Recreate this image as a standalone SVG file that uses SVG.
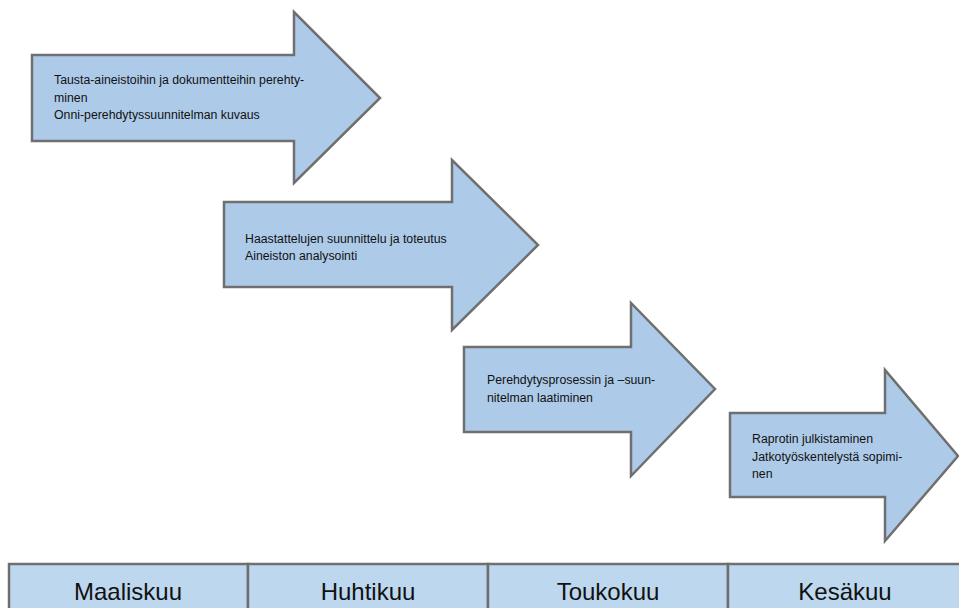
<svg xmlns="http://www.w3.org/2000/svg" width="959" height="608" viewBox="0 0 959 608">
<style>
.arrow{fill:#adcbe9;stroke:#6f6f6f;stroke-width:2.5;stroke-linejoin:miter}
.t{font-family:"Liberation Sans",Arial,sans-serif;font-size:12.3px;fill:#111}
.cell{fill:#bdd7ee;stroke:#6f6f6f;stroke-width:2.5}
.m{font-family:"Liberation Sans",Arial,sans-serif;font-size:24px;fill:#111;text-anchor:middle}
</style>
<rect width="959" height="608" fill="#fff"/>
<g id="arrow1">
<polygon class="arrow" points="32,55 294,55 294,12 380,98 294,183 294,141 32,141"/>
<text class="t" x="54" y="84">Tausta-aineistoihin ja dokumentteihin perehty-</text>
<text class="t" x="54" y="101.6">minen</text>
<text class="t" x="54" y="119.2">Onni-perehdytyssuunnitelman kuvaus</text>
</g>
<g id="arrow2">
<polygon class="arrow" points="224,202 452,202 452,160 538,245 452,330 452,287 224,287"/>
<text class="t" x="245" y="242.7">Haastattelujen suunnittelu ja toteutus</text>
<text class="t" x="245" y="260.3">Aineiston analysointi</text>
</g>
<g id="arrow3">
<polygon class="arrow" points="464,347 631,347 631,303 715,389 631,476 631,432 464,432"/>
<text class="t" x="487" y="384">Perehdytysprosessin ja –suun-</text>
<text class="t" x="487" y="401.6">nitelman laatiminen</text>
</g>
<g id="arrow4">
<polygon class="arrow" points="730,413 885,413 885,370 958,456 885,541 885,497 730,497"/>
<text class="t" x="752" y="443">Raprotin julkistaminen</text>
<text class="t" x="752" y="460.5">Jatkotyöskentelystä sopimi-</text>
<text class="t" x="752" y="478">nen</text>
</g>
<g id="timeline">
<g id="m1"><rect class="cell" x="9" y="564" width="239" height="60"/><text class="m" x="128" y="600">Maaliskuu</text></g>
<g id="m2"><rect class="cell" x="248" y="564" width="240" height="60"/><text class="m" x="368" y="600">Huhtikuu</text></g>
<g id="m3"><rect class="cell" x="488" y="564" width="240" height="60"/><text class="m" x="608" y="600">Toukokuu</text></g>
<g id="m4"><rect class="cell" x="728" y="564" width="250" height="60"/><text class="m" x="845" y="600">Kesäkuu</text></g>
</g>
<g id="connectors"></g>
</svg>
